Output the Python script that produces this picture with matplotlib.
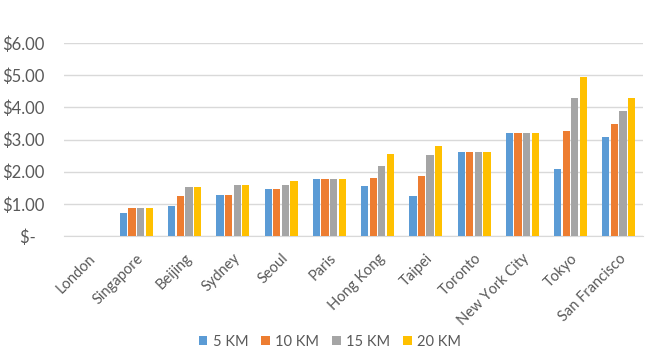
import numpy as np
import matplotlib
matplotlib.use("Agg")
import matplotlib.pyplot as plt

# Données
villes = ["London", "Singapore", "Beijing", "Sydney", "Seoul", "Paris",
          "Hong Kong", "Taipei", "Toronto", "New York City", "Tokyo", "San Francisco"]
km5 = [0, 0.70, 0.92, 1.28, 1.46, 1.77, 1.56, 1.25, 2.60, 3.22, 2.08, 3.09]
km10 = [0, 0.88, 1.23, 1.28, 1.46, 1.77, 1.82, 1.87, 2.60, 3.22, 3.27, 3.49]
km15 = [0, 0.88, 1.52, 1.58, 1.58, 1.77, 2.19, 2.51, 2.60, 3.22, 4.29, 3.89]
km20 = [0, 0.88, 1.52, 1.58, 1.70, 1.77, 2.56, 2.81, 2.60, 3.22, 4.94, 4.29]
series = ["5 KM", "10 KM", "15 KM", "20 KM"]
yticks = [0, 1, 2, 3, 4, 5, 6]
ylabels = ["$-  ", "$1.00", "$2.00", "$3.00", "$4.00", "$5.00", "$6.00"]

couleurs = ["#5B9BD5", "#ED7D31", "#A5A5A5", "#FFC000"]
gris_texte = "#595959"

plt.rcParams['font.family'] = ['Lato', 'DejaVu Sans']

fig = plt.figure(figsize=(6.6, 3.57), dpi=100)
ax = fig.add_axes([0.097, 0.339, 0.877, 0.540])

x = np.arange(len(villes))
largeur = 0.15
pas = 0.178
for i, (vals, nom, c) in enumerate(zip([km5, km10, km15, km20], series, couleurs)):
    ax.bar(x + (i - 1.5) * pas, vals, width=largeur, color=c, label=nom, zorder=3)

ax.set_xlim(-0.5, len(villes) - 0.5)
ax.set_ylim(0, 6)
ax.set_yticks(yticks)
ax.set_yticklabels(ylabels, fontsize=12, color=gris_texte)
ax.set_xticks(x)
ax.set_xticklabels(villes, rotation=45, ha='right', rotation_mode='anchor',
                   fontsize=10.5, color=gris_texte)
ax.tick_params(length=0)
ax.tick_params(axis='y', pad=14)
ax.tick_params(axis='x', pad=11)
ax.grid(axis='y', color='#D9D9D9', linewidth=1, zorder=0)
for s in ['top', 'right', 'left']:
    ax.spines[s].set_visible(False)
ax.spines['bottom'].set_color('#D9D9D9')

fig.legend(loc='center', bbox_to_anchor=(0.5, 0.042), ncol=4, frameon=False,
           fontsize=10.5, handlelength=0.6, handleheight=0.6, handletextpad=0.35,
           columnspacing=0.9, labelcolor=gris_texte)

fig.savefig("out.png", dpi=100)
